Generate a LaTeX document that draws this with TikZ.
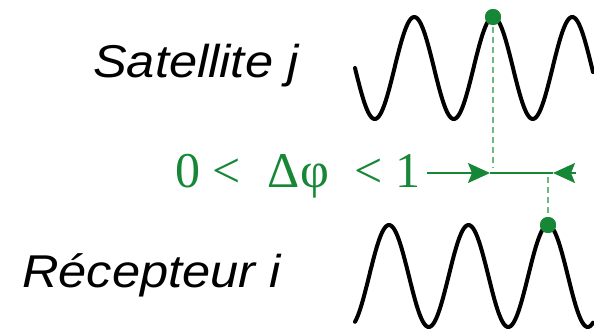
\documentclass[tikz,border=0pt]{standalone}
\usepackage{fontspec}
\setmainfont{Liberation Serif}
\setsansfont[FakeStretch=1.1]{Liberation Sans}
\usetikzlibrary{arrows.meta}
\definecolor{dgreen}{RGB}{22,135,55}
\definecolor{lgreen}{RGB}{110,185,125}
\begin{document}
\begin{tikzpicture}[x=1pt,y=-1pt,
  wave/.style={line width=4pt,black,line cap=round,line join=round},
  lbl/.style={inner sep=0pt,anchor=base west,font=\sffamily\itshape\fontsize{46}{54}\selectfont},
  glbl/.style={inner sep=0pt,anchor=base west,text=dgreen,font=\rmfamily\fontsize{50}{58}\selectfont},
  gdot/.style={circle,fill=dgreen,inner sep=0pt,minimum size=16pt},
  gdash/.style={lgreen,line width=1.8pt,dash pattern=on 6pt off 4pt},
  garrow/.style={dgreen,line width=2pt},
  tipr/.style={-{Stealth[length=22pt,width=20pt,inset=4pt]}}
]
\useasboundingbox (0,0) rectangle (594,332);
% text
\node[lbl] (sat) at (93,77) {Satellite j};
\node[lbl] (rec) at (22,287) {Récepteur i};
\node[glbl] (phi) at (175,187) {0 <\hspace{27pt}Δφ\hspace{26pt}< 1};
% waves
\draw[wave] plot[domain=0:238,samples=240] (355+\x,{68+51*sin(4.557*\x)});
\draw[wave] plot[domain=-34:204,samples=240] (389+\x,{276-51*cos(4.528*\x)});
% dashed guides
\coordinate (a1) at (493,168);
\coordinate (b1) at (548,177);
\coordinate (s) at (427,173);
\coordinate (ta) at (490,173);
\coordinate (tb) at (553,173);
\coordinate (e) at (576,173);
\node[gdot] (d1) at (493,17) {};
\node[gdot] (d2) at (548,225) {};
\draw[gdash] (d1.center) -- (a1);
\draw[gdash] (b1) -- (d2.center);
\node[gdot] at (493,17) {};
\node[gdot] at (548,225) {};
% arrows
\draw[garrow,tipr] (s) -- (ta);
\draw[garrow] (ta) -- (tb);
\draw[garrow,tipr] (e) -- (tb);
\end{tikzpicture}
\end{document}
